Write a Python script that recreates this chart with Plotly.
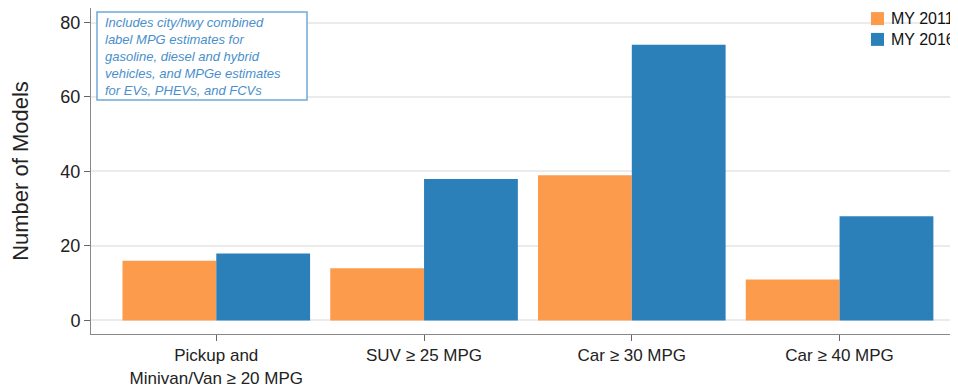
import plotly.graph_objects as go

categories = ["Pickup and<br>Minivan/Van ≥ 20 MPG", "SUV ≥ 25 MPG", "Car ≥ 30 MPG", "Car ≥ 40 MPG"]
my2011 = [16, 14, 39, 11]
my2016 = [18, 38, 74, 28]
y_ticks = [0, 20, 40, 60, 80]
series_names = ["MY 2011", "MY 2016"]
series_colors = ["#FD9B4C", "#2B80BA"]
note_lines = ["Includes city/hwy combined", "label MPG estimates for", "gasoline, diesel and hybrid",
              "vehicles, and MPGe estimates", "for EVs, PHEVs, and FCVs"]

fig = go.Figure()
for name, vals, col in zip(series_names, [my2011, my2016], series_colors):
    fig.add_trace(go.Bar(x=categories, y=vals, name=name, marker_color=col, marker_line_width=0,
                         showlegend=False))

# page body has an 8px margin; size the figure to sit inside the 958x387 window
OFF = 8
W, H = 950, 379
L, R, T, B = 83, 0, 0, 53
fig.update_layout(
    width=W, height=H,
    margin=dict(l=L, r=R, t=T, b=B, autoexpand=False),
    paper_bgcolor="white", plot_bgcolor="white",
    barmode="group", bargap=0.097, bargroupgap=0,
    font=dict(family="Liberation Sans, Arial", color="#222"),
)
fig.update_xaxes(
    range=[-0.603, 3.57], showgrid=False, showline=True, linecolor="#888", linewidth=1, mirror=True,
    ticks="outside", ticklen=6, tickcolor="#666", automargin=False,
    tickfont=dict(family="Liberation Sans", size=17, color="#222"),
)
fig.update_yaxes(
    range=[-3.65, 83.9], tickvals=y_ticks, showgrid=True, gridcolor="#EBEBEB", gridwidth=1.5,
    showline=True, linecolor="#888", linewidth=1, mirror=True, zeroline=False, automargin=False,
    ticks="outside", ticklen=6, tickcolor="#666", tickfont=dict(size=18, color="#222"),
    title=dict(text="Number of Models", font=dict(size=22, color="#222"), standoff=29),
)

pw = W - L - R
ph = H - T - B
def px(x):
    return (x - OFF - L) / pw
def py(y):
    return (H - B - (y - OFF)) / ph

# note box
fig.add_shape(type="rect", xref="paper", yref="paper", x0=px(97), x1=px(307), y0=py(100), y1=py(12),
              line=dict(color="#72A9D8", width=1.5), fillcolor="white", layer="above")
fig.add_annotation(
    text="<br>".join(note_lines), xref="paper", yref="paper", x=px(103), y=py(56),
    xanchor="left", yanchor="middle", showarrow=False, align="left",
    font=dict(size=13, color="#4A8FCB", family="Liberation Sans", style="italic"),
)

# legend (top right, partly cut by the window edge as in the reference)
leg_font = 16
gap = leg_font * 1.3
yc0 = 29
for i, col in enumerate(series_colors):
    yc = yc0 + (i - 0.5) * gap
    fig.add_shape(type="rect", xref="paper", yref="paper", x0=px(871), x1=px(884),
                  y0=py(yc + 6.5), y1=py(yc - 6.5), line=dict(width=0), fillcolor=col, layer="above")
fig.add_annotation(text="<br>".join(series_names), xref="paper", yref="paper", x=px(889), y=py(yc0),
                   xanchor="left", yanchor="middle", align="left", showarrow=False,
                   font=dict(size=leg_font, color="#111", family="Liberation Sans"))

fig.write_html("out.html")
